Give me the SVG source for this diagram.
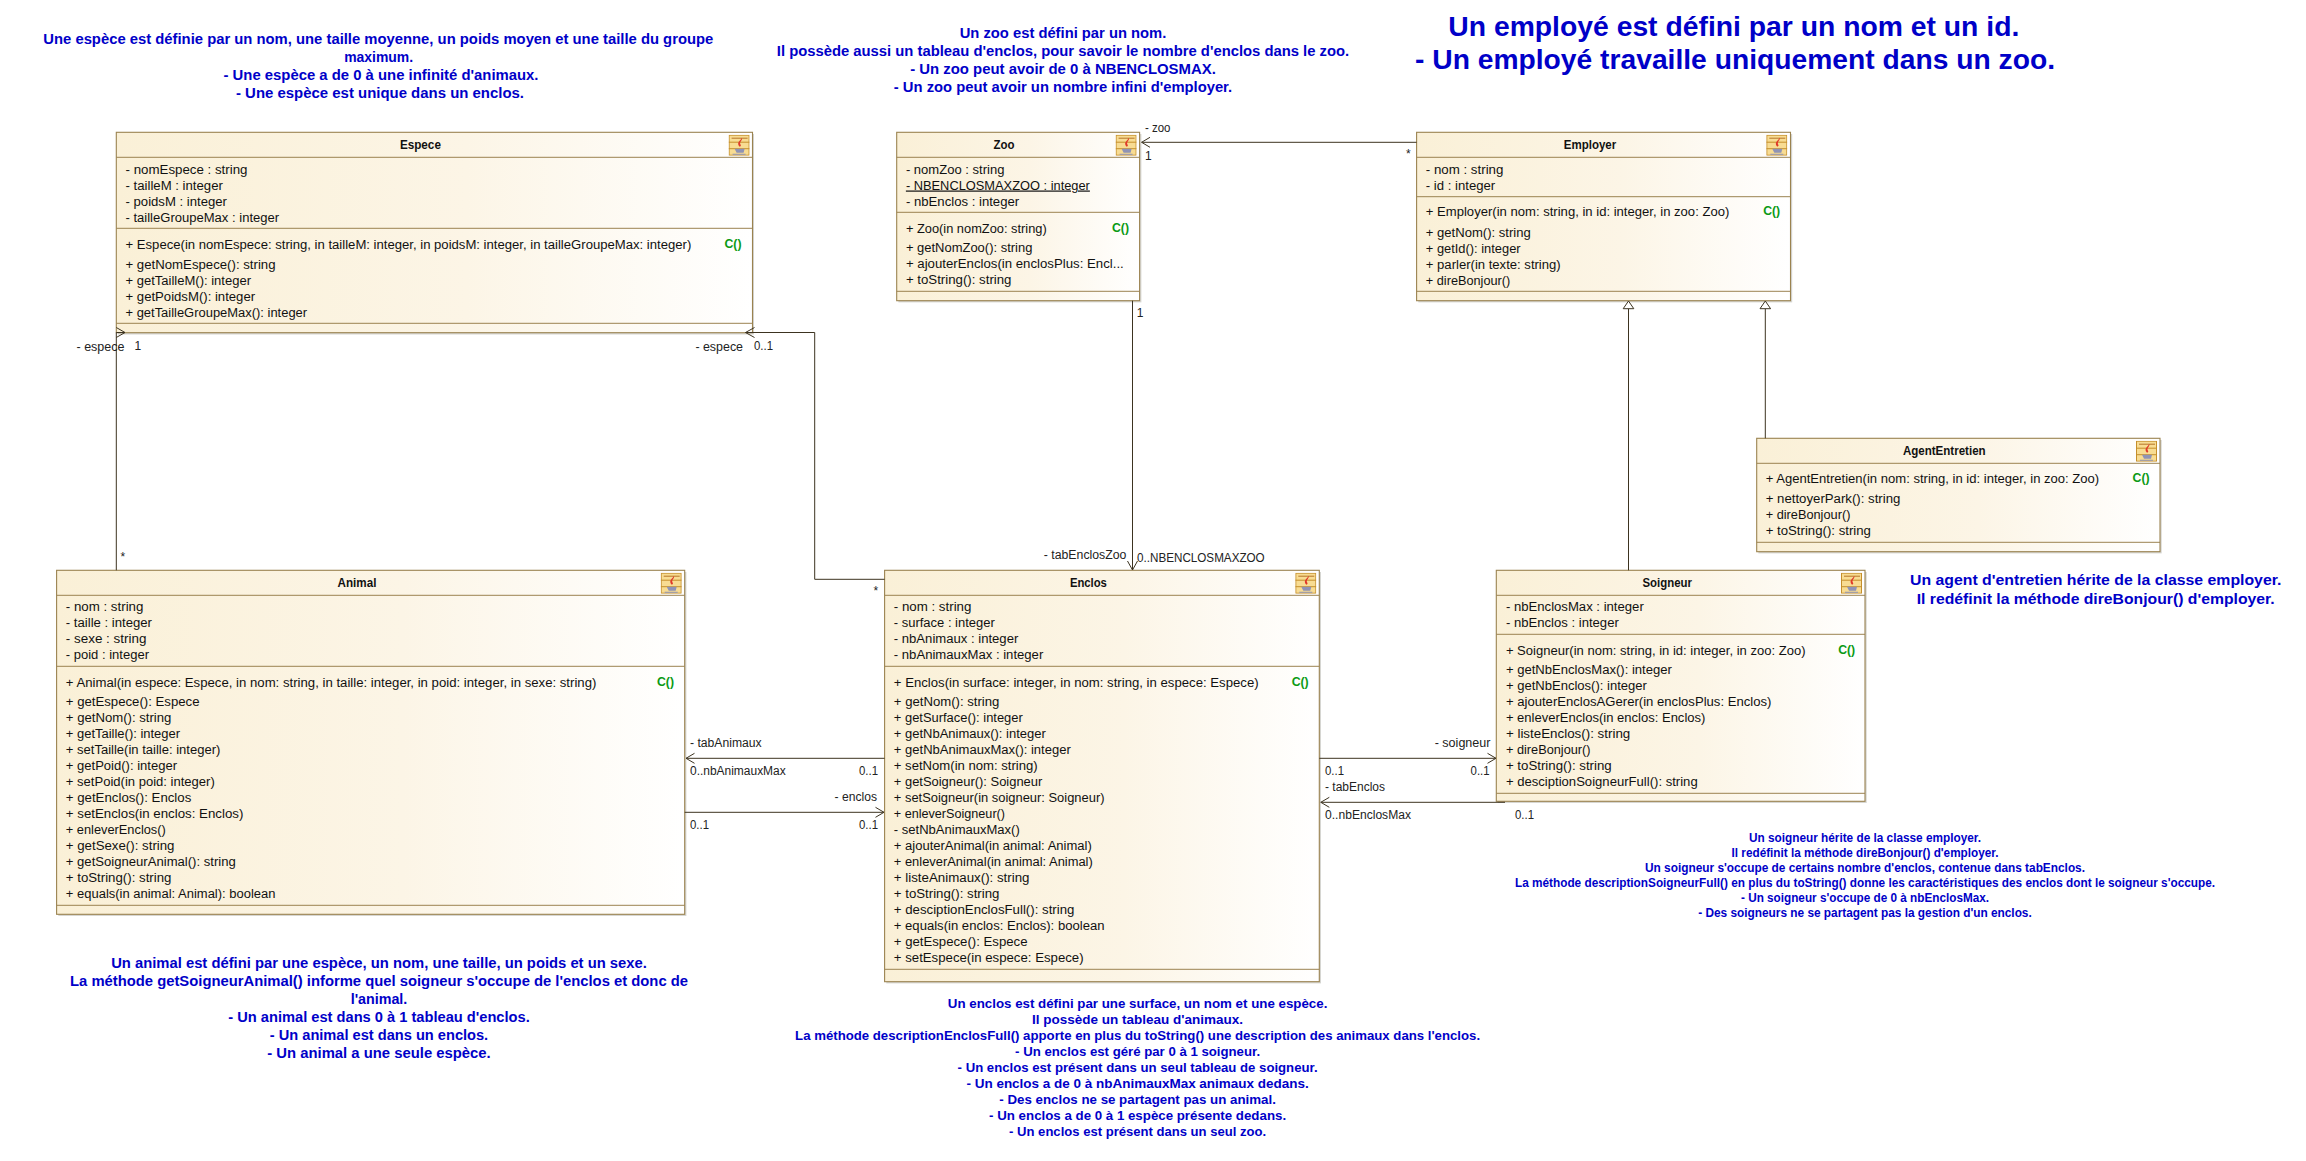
<svg xmlns="http://www.w3.org/2000/svg" width="2306" height="1161" viewBox="0 0 2306 1161">
<style>
text{font-family:"Liberation Sans",Arial,sans-serif}
.t{font-size:12px;fill:#111}
.u{text-decoration:underline}
.h{font-size:12px;fill:#111;font-weight:bold;text-anchor:middle}
.c{font-size:13px;fill:#0a9a14;font-weight:bold}
.l{font-size:12px;fill:#222}
.n{fill:#0000c8;font-weight:bold;text-anchor:middle}
.n1{font-size:14px}.n2{font-size:13px}.n3{font-size:12px}.n4{font-size:28px}.n5{font-size:15px}
.box{fill:url(#g);stroke:#9b8350;stroke-width:1.1}
.sh{fill:#d6d6d2}
.div{stroke:#9b8350;stroke-width:1;fill:none}
.con{fill:none;stroke:#3c3320;stroke-width:1}
.tri{fill:#fff;stroke:#3c3320;stroke-width:1}
</style>
<defs>
<linearGradient id="g" x1="0" y1="0" x2="1" y2="0"><stop offset="0" stop-color="#faf0d7"/><stop offset="0.55" stop-color="#fcf5e6"/><stop offset="1" stop-color="#ffffff"/></linearGradient>
<symbol id="icon" viewBox="0 0 21 21" width="21" height="21">
<rect x="0.5" y="0.5" width="20" height="20" fill="#f8dc92" stroke="#c58f2c"/>
<path d="M0 7.5H21M0 14H21" stroke="#c58f2c" fill="none"/>
<path d="M3 3.5H19" stroke="#b5762a" fill="none"/>
<path d="M13 3C15 5 10 7 12 10C13 11 11 12 11 12C9 10 9 8 11 6C12 5 13 4 13 3Z" fill="#e0392a"/>
<path d="M6 14H16L15 18H8ZM4 19H17V20H4Z" fill="#8f93b5"/>
</symbol>
</defs>
<rect width="2306" height="1161" fill="#fff"/>

<g id="Espece">
<rect class="sh" x="118" y="134" width="636" height="200.500"/>
<rect class="box" x="116.300" y="132.300" width="636.200" height="200.400"/>
<path class="div" d="M116.300 157.300H752.500M116.300 228.300H752.500M116.300 323.300H752.500"/>
<use href="#icon" x="728.600" y="134.700"/>
<text class="h" x="420.400" y="149" textLength="41" lengthAdjust="spacingAndGlyphs">Espece</text>
<text class="t" x="125.500" y="173.500" textLength="122" lengthAdjust="spacingAndGlyphs">- nomEspece : string</text>
<text class="t" x="125.500" y="189.500" textLength="97.400" lengthAdjust="spacingAndGlyphs">- tailleM : integer</text>
<text class="t" x="125.500" y="205.500" textLength="101.500" lengthAdjust="spacingAndGlyphs">- poidsM : integer</text>
<text class="t" x="125.500" y="221.500" textLength="153.600" lengthAdjust="spacingAndGlyphs">- tailleGroupeMax : integer</text>
<text class="t" x="125.500" y="248.500" textLength="565.800" lengthAdjust="spacingAndGlyphs">+ Espece(in nomEspece: string, in tailleM: integer, in poidsM: integer, in tailleGroupeMax: integer)</text>
<text class="c" x="724.500" y="247.500" textLength="17" lengthAdjust="spacingAndGlyphs">C()</text>
<text class="t" x="125.500" y="268.500" textLength="150" lengthAdjust="spacingAndGlyphs">+ getNomEspece(): string</text>
<text class="t" x="125.500" y="284.500" textLength="125.500" lengthAdjust="spacingAndGlyphs">+ getTailleM(): integer</text>
<text class="t" x="125.500" y="300.500" textLength="129.600" lengthAdjust="spacingAndGlyphs">+ getPoidsM(): integer</text>
<text class="t" x="125.500" y="316.500" textLength="181.600" lengthAdjust="spacingAndGlyphs">+ getTailleGroupeMax(): integer</text>
</g>

<g id="Zoo">
<rect class="sh" x="898.400" y="134" width="243" height="168.400"/>
<rect class="box" x="896.700" y="132.300" width="242.900" height="168.400"/>
<path class="div" d="M896.700 157.300H1139.600M896.700 212.300H1139.600M896.700 291.300H1139.600"/>
<use href="#icon" x="1115.600" y="134.700"/>
<text class="h" x="1004" y="149" textLength="21" lengthAdjust="spacingAndGlyphs">Zoo</text>
<text class="t" x="905.900" y="173.500" textLength="98.500" lengthAdjust="spacingAndGlyphs">- nomZoo : string</text>
<text class="t u" x="905.900" y="189.500" textLength="184" lengthAdjust="spacingAndGlyphs">- NBENCLOSMAXZOO : integer</text>
<text class="t" x="905.900" y="205.500" textLength="113.300" lengthAdjust="spacingAndGlyphs">- nbEnclos : integer</text>
<text class="t" x="905.900" y="232.500" textLength="140.800" lengthAdjust="spacingAndGlyphs">+ Zoo(in nomZoo: string)</text>
<text class="c" x="1112" y="231.500" textLength="17" lengthAdjust="spacingAndGlyphs">C()</text>
<text class="t" x="905.900" y="252" textLength="126.500" lengthAdjust="spacingAndGlyphs">+ getNomZoo(): string</text>
<text class="t" x="905.900" y="268" textLength="217.900" lengthAdjust="spacingAndGlyphs">+ ajouterEnclos(in enclosPlus: Encl...</text>
<text class="t" x="905.900" y="284" textLength="105.600" lengthAdjust="spacingAndGlyphs">+ toString(): string</text>
</g>

<g id="Employer">
<rect class="sh" x="1418.300" y="134" width="373.900" height="168.400"/>
<rect class="box" x="1416.600" y="132.300" width="373.900" height="168.400"/>
<path class="div" d="M1416.600 157.300H1790.500M1416.600 196.700H1790.500M1416.600 291.300H1790.500"/>
<use href="#icon" x="1766.300" y="134.700"/>
<text class="h" x="1590" y="149" textLength="52.400" lengthAdjust="spacingAndGlyphs">Employer</text>
<text class="t" x="1425.800" y="173.500" textLength="77.600" lengthAdjust="spacingAndGlyphs">- nom : string</text>
<text class="t" x="1425.800" y="189.500" textLength="69.400" lengthAdjust="spacingAndGlyphs">- id : integer</text>
<text class="t" x="1425.800" y="216" textLength="303.500" lengthAdjust="spacingAndGlyphs">+ Employer(in nom: string, in id: integer, in zoo: Zoo)</text>
<text class="c" x="1763.200" y="215" textLength="17" lengthAdjust="spacingAndGlyphs">C()</text>
<text class="t" x="1425.800" y="236.500" textLength="105" lengthAdjust="spacingAndGlyphs">+ getNom(): string</text>
<text class="t" x="1425.800" y="252.500" textLength="94.800" lengthAdjust="spacingAndGlyphs">+ getId(): integer</text>
<text class="t" x="1425.800" y="268.500" textLength="134.900" lengthAdjust="spacingAndGlyphs">+ parler(in texte: string)</text>
<text class="t" x="1425.800" y="284.500" textLength="84.500" lengthAdjust="spacingAndGlyphs">+ direBonjour()</text>
</g>

<g id="AgentEntretien">
<rect class="sh" x="1758.400" y="440" width="403.300" height="113.400"/>
<rect class="box" x="1756.700" y="438.300" width="403.300" height="113.400"/>
<path class="div" d="M1756.700 463.300H2160M1756.700 542.300H2160"/>
<use href="#icon" x="2136" y="440.700"/>
<text class="h" x="1944.300" y="455" textLength="82.700" lengthAdjust="spacingAndGlyphs">AgentEntretien</text>
<text class="t" x="1765.700" y="483.300" textLength="333.500" lengthAdjust="spacingAndGlyphs">+ AgentEntretien(in nom: string, in id: integer, in zoo: Zoo)</text>
<text class="c" x="2132.600" y="482.300" textLength="17" lengthAdjust="spacingAndGlyphs">C()</text>
<text class="t" x="1765.700" y="503.300" textLength="134.700" lengthAdjust="spacingAndGlyphs">+ nettoyerPark(): string</text>
<text class="t" x="1765.700" y="519.300" textLength="84.700" lengthAdjust="spacingAndGlyphs">+ direBonjour()</text>
<text class="t" x="1765.700" y="535.300" textLength="105.200" lengthAdjust="spacingAndGlyphs">+ toString(): string</text>
</g>

<g id="Animal">
<rect class="sh" x="58.300" y="572" width="628.100" height="344"/>
<rect class="box" x="56.600" y="570.300" width="628.100" height="344"/>
<path class="div" d="M56.600 595.300H684.700M56.600 666.300H684.700M56.600 905.300H684.700"/>
<use href="#icon" x="660.700" y="572.700"/>
<text class="h" x="357" y="587" textLength="38.800" lengthAdjust="spacingAndGlyphs">Animal</text>
<text class="t" x="65.800" y="611.200" textLength="77.600" lengthAdjust="spacingAndGlyphs">- nom : string</text>
<text class="t" x="65.800" y="627.200" textLength="86.200" lengthAdjust="spacingAndGlyphs">- taille : integer</text>
<text class="t" x="65.800" y="643.200" textLength="80.600" lengthAdjust="spacingAndGlyphs">- sexe : string</text>
<text class="t" x="65.800" y="659.200" textLength="83.200" lengthAdjust="spacingAndGlyphs">- poid : integer</text>
<text class="t" x="65.800" y="686.500" textLength="530.600" lengthAdjust="spacingAndGlyphs">+ Animal(in espece: Espece, in nom: string, in taille: integer, in poid: integer, in sexe: string)</text>
<text class="c" x="657" y="685.500" textLength="17" lengthAdjust="spacingAndGlyphs">C()</text>
<text class="t" x="65.800" y="706.200" textLength="133.700" lengthAdjust="spacingAndGlyphs">+ getEspece(): Espece</text>
<text class="t" x="65.800" y="722.200" textLength="105.600" lengthAdjust="spacingAndGlyphs">+ getNom(): string</text>
<text class="t" x="65.800" y="738.200" textLength="114.300" lengthAdjust="spacingAndGlyphs">+ getTaille(): integer</text>
<text class="t" x="65.800" y="754.200" textLength="154.600" lengthAdjust="spacingAndGlyphs">+ setTaille(in taille: integer)</text>
<text class="t" x="65.800" y="770.200" textLength="111.200" lengthAdjust="spacingAndGlyphs">+ getPoid(): integer</text>
<text class="t" x="65.800" y="786.200" textLength="149" lengthAdjust="spacingAndGlyphs">+ setPoid(in poid: integer)</text>
<text class="t" x="65.800" y="802.200" textLength="125.500" lengthAdjust="spacingAndGlyphs">+ getEnclos(): Enclos</text>
<text class="t" x="65.800" y="818.200" textLength="177.600" lengthAdjust="spacingAndGlyphs">+ setEnclos(in enclos: Enclos)</text>
<text class="t" x="65.800" y="834.200" textLength="100" lengthAdjust="spacingAndGlyphs">+ enleverEnclos()</text>
<text class="t" x="65.800" y="850.200" textLength="108.700" lengthAdjust="spacingAndGlyphs">+ getSexe(): string</text>
<text class="t" x="65.800" y="866.200" textLength="170" lengthAdjust="spacingAndGlyphs">+ getSoigneurAnimal(): string</text>
<text class="t" x="65.800" y="882.200" textLength="105.600" lengthAdjust="spacingAndGlyphs">+ toString(): string</text>
<text class="t" x="65.800" y="898.200" textLength="209.700" lengthAdjust="spacingAndGlyphs">+ equals(in animal: Animal): boolean</text>
</g>

<g id="Enclos">
<rect class="sh" x="886.300" y="572" width="434.700" height="411.400"/>
<rect class="box" x="884.600" y="570.300" width="434.700" height="411.400"/>
<path class="div" d="M884.600 595.300H1319.300M884.600 666.300H1319.300M884.600 969.300H1319.300"/>
<use href="#icon" x="1295.300" y="572.700"/>
<text class="h" x="1088.400" y="587" textLength="37" lengthAdjust="spacingAndGlyphs">Enclos</text>
<text class="t" x="893.800" y="611.200" textLength="77.600" lengthAdjust="spacingAndGlyphs">- nom : string</text>
<text class="t" x="893.800" y="627.200" textLength="101" lengthAdjust="spacingAndGlyphs">- surface : integer</text>
<text class="t" x="893.800" y="643.200" textLength="124.500" lengthAdjust="spacingAndGlyphs">- nbAnimaux : integer</text>
<text class="t" x="893.800" y="659.200" textLength="149.500" lengthAdjust="spacingAndGlyphs">- nbAnimauxMax : integer</text>
<text class="t" x="893.800" y="686.500" textLength="364.800" lengthAdjust="spacingAndGlyphs">+ Enclos(in surface: integer, in nom: string, in espece: Espece)</text>
<text class="c" x="1291.700" y="685.500" textLength="17" lengthAdjust="spacingAndGlyphs">C()</text>
<text class="t" x="893.800" y="706.200" textLength="105.600" lengthAdjust="spacingAndGlyphs">+ getNom(): string</text>
<text class="t" x="893.800" y="722.200" textLength="129" lengthAdjust="spacingAndGlyphs">+ getSurface(): integer</text>
<text class="t" x="893.800" y="738.200" textLength="152" lengthAdjust="spacingAndGlyphs">+ getNbAnimaux(): integer</text>
<text class="t" x="893.800" y="754.200" textLength="177" lengthAdjust="spacingAndGlyphs">+ getNbAnimauxMax(): integer</text>
<text class="t" x="893.800" y="770.200" textLength="143.900" lengthAdjust="spacingAndGlyphs">+ setNom(in nom: string)</text>
<text class="t" x="893.800" y="786.200" textLength="148.500" lengthAdjust="spacingAndGlyphs">+ getSoigneur(): Soigneur</text>
<text class="t" x="893.800" y="802.200" textLength="210.700" lengthAdjust="spacingAndGlyphs">+ setSoigneur(in soigneur: Soigneur)</text>
<text class="t" x="893.800" y="818.200" textLength="111.200" lengthAdjust="spacingAndGlyphs">+ enleverSoigneur()</text>
<text class="t" x="893.800" y="834.200" textLength="126" lengthAdjust="spacingAndGlyphs">- setNbAnimauxMax()</text>
<text class="t" x="893.800" y="850.200" textLength="198" lengthAdjust="spacingAndGlyphs">+ ajouterAnimal(in animal: Animal)</text>
<text class="t" x="893.800" y="866.200" textLength="199" lengthAdjust="spacingAndGlyphs">+ enleverAnimal(in animal: Animal)</text>
<text class="t" x="893.800" y="882.200" textLength="135.700" lengthAdjust="spacingAndGlyphs">+ listeAnimaux(): string</text>
<text class="t" x="893.800" y="898.200" textLength="105.600" lengthAdjust="spacingAndGlyphs">+ toString(): string</text>
<text class="t" x="893.800" y="914.200" textLength="180.600" lengthAdjust="spacingAndGlyphs">+ desciptionEnclosFull(): string</text>
<text class="t" x="893.800" y="930.200" textLength="210.700" lengthAdjust="spacingAndGlyphs">+ equals(in enclos: Enclos): boolean</text>
<text class="t" x="893.800" y="946.200" textLength="133.700" lengthAdjust="spacingAndGlyphs">+ getEspece(): Espece</text>
<text class="t" x="893.800" y="962.200" textLength="189.800" lengthAdjust="spacingAndGlyphs">+ setEspece(in espece: Espece)</text>
</g>

<g id="Soigneur">
<rect class="sh" x="1498" y="572" width="368.700" height="231"/>
<rect class="box" x="1496.300" y="570.300" width="368.700" height="231"/>
<path class="div" d="M1496.300 595.300H1865M1496.300 634.300H1865M1496.300 793.300H1865"/>
<use href="#icon" x="1841" y="572.700"/>
<text class="h" x="1667.200" y="587" textLength="49.400" lengthAdjust="spacingAndGlyphs">Soigneur</text>
<text class="t" x="1505.900" y="611.200" textLength="137.900" lengthAdjust="spacingAndGlyphs">- nbEnclosMax : integer</text>
<text class="t" x="1505.900" y="627.200" textLength="112.900" lengthAdjust="spacingAndGlyphs">- nbEnclos : integer</text>
<text class="t" x="1505.900" y="654.500" textLength="299.600" lengthAdjust="spacingAndGlyphs">+ Soigneur(in nom: string, in id: integer, in zoo: Zoo)</text>
<text class="c" x="1838.200" y="653.500" textLength="17" lengthAdjust="spacingAndGlyphs">C()</text>
<text class="t" x="1505.900" y="674.200" textLength="166" lengthAdjust="spacingAndGlyphs">+ getNbEnclosMax(): integer</text>
<text class="t" x="1505.900" y="690.200" textLength="141" lengthAdjust="spacingAndGlyphs">+ getNbEnclos(): integer</text>
<text class="t" x="1505.900" y="706.200" textLength="265.500" lengthAdjust="spacingAndGlyphs">+ ajouterEnclosAGerer(in enclosPlus: Enclos)</text>
<text class="t" x="1505.900" y="722.200" textLength="199.500" lengthAdjust="spacingAndGlyphs">+ enleverEnclos(in enclos: Enclos)</text>
<text class="t" x="1505.900" y="738.200" textLength="124.400" lengthAdjust="spacingAndGlyphs">+ listeEnclos(): string</text>
<text class="t" x="1505.900" y="754.200" textLength="84.700" lengthAdjust="spacingAndGlyphs">+ direBonjour()</text>
<text class="t" x="1505.900" y="770.200" textLength="105.800" lengthAdjust="spacingAndGlyphs">+ toString(): string</text>
<text class="t" x="1505.900" y="786.200" textLength="191.800" lengthAdjust="spacingAndGlyphs">+ desciptionSoigneurFull(): string</text>
</g>

<g id="connectors">
<path class="con" d="M116.300 570.300V332.500"/>
<path class="con" d="M116.300 327.500L125 332.500L116.300 337.500M116.300 332.500H125"/>
<path class="con" d="M884.600 579.300H814.700V332.500H745.500M754.500 327.500L745.500 332.500L754.500 337.500"/>
<path class="con" d="M1416.600 142.300H1141.600M1150 137.300L1141.600 142.300L1150 147.300"/>
<path class="con" d="M1132.500 300.700V570M1127.500 561L1132.500 570L1137.500 561"/>
<path class="con" d="M884.600 758.300H686M694.500 753.300L686 758.300L694.500 763.300"/>
<path class="con" d="M684.700 812.300H884M875.500 807.300L884 812.300L875.500 817.300"/>
<path class="con" d="M1319.300 758.300H1496M1487.500 753.300L1496 758.300L1487.500 763.300"/>
<path class="con" d="M1505 802.300H1320.800M1329.300 797.300L1320.800 802.300L1329.300 807.300"/>
<path class="con" d="M1628.500 570.300V308.700"/>
<path class="tri" d="M1628.500 301L1633.800 308.700H1623.200Z"/>
<path class="con" d="M1765.300 438.300V308.700"/>
<path class="tri" d="M1765.300 301L1770.600 308.700H1760Z"/>
</g>

<g id="connector-labels">
<text class="l" x="76.500" y="351" textLength="48" lengthAdjust="spacingAndGlyphs">- espece</text>
<text class="l" x="134.400" y="349.500">1</text>
<text class="l" x="120.500" y="560.500">*</text>
<text class="l" x="695.400" y="351" textLength="47.600" lengthAdjust="spacingAndGlyphs">- espece</text>
<text class="l" x="754" y="349.500" textLength="19" lengthAdjust="spacingAndGlyphs">0..1</text>
<text class="l" x="873.400" y="594.500">*</text>
<text class="l" x="1145" y="131.500" textLength="25.500" lengthAdjust="spacingAndGlyphs">- zoo</text>
<text class="l" x="1145" y="159.500">1</text>
<text class="l" x="1406" y="158">*</text>
<text class="l" x="1136.700" y="317">1</text>
<text class="l" x="1043.800" y="559" textLength="82.600" lengthAdjust="spacingAndGlyphs">- tabEnclosZoo</text>
<text class="l" x="1137" y="561.500" textLength="127.700" lengthAdjust="spacingAndGlyphs">0..NBENCLOSMAXZOO</text>
<text class="l" x="690" y="747" textLength="71.700" lengthAdjust="spacingAndGlyphs">- tabAnimaux</text>
<text class="l" x="690" y="775" textLength="95.700" lengthAdjust="spacingAndGlyphs">0..nbAnimauxMax</text>
<text class="l" x="859" y="775" textLength="19" lengthAdjust="spacingAndGlyphs">0..1</text>
<text class="l" x="834.600" y="801" textLength="42.400" lengthAdjust="spacingAndGlyphs">- enclos</text>
<text class="l" x="690" y="829" textLength="19" lengthAdjust="spacingAndGlyphs">0..1</text>
<text class="l" x="859" y="829" textLength="19" lengthAdjust="spacingAndGlyphs">0..1</text>
<text class="l" x="1434.700" y="747" textLength="55.800" lengthAdjust="spacingAndGlyphs">- soigneur</text>
<text class="l" x="1325" y="775" textLength="19" lengthAdjust="spacingAndGlyphs">0..1</text>
<text class="l" x="1470.600" y="775" textLength="19" lengthAdjust="spacingAndGlyphs">0..1</text>
<text class="l" x="1325" y="791" textLength="60" lengthAdjust="spacingAndGlyphs">- tabEnclos</text>
<text class="l" x="1325" y="819" textLength="86" lengthAdjust="spacingAndGlyphs">0..nbEnclosMax</text>
<text class="l" x="1515" y="819" textLength="19" lengthAdjust="spacingAndGlyphs">0..1</text>
</g>

<g id="note-espece">
<text class="n n1" x="378.300" y="44" textLength="670" lengthAdjust="spacingAndGlyphs">Une espèce est définie par un nom, une taille moyenne, un poids moyen et une taille du groupe</text>
<text class="n n1" x="378.600" y="62" textLength="68.900" lengthAdjust="spacingAndGlyphs">maximum.</text>
<text class="n n1" x="381" y="80" textLength="315" lengthAdjust="spacingAndGlyphs">- Une espèce a de 0 à une infinité d'animaux.</text>
<text class="n n1" x="380" y="98" textLength="288" lengthAdjust="spacingAndGlyphs">- Une espèce est unique dans un enclos.</text>
</g>
<g id="note-zoo">
<text class="n n1" x="1063" y="38" textLength="206.600" lengthAdjust="spacingAndGlyphs">Un zoo est défini par un nom.</text>
<text class="n n1" x="1063" y="56" textLength="572.400" lengthAdjust="spacingAndGlyphs">Il possède aussi un tableau d'enclos, pour savoir le nombre d'enclos dans le zoo.</text>
<text class="n n1" x="1063" y="74" textLength="305.600" lengthAdjust="spacingAndGlyphs">- Un zoo peut avoir de 0 à NBENCLOSMAX.</text>
<text class="n n1" x="1063" y="92" textLength="338.300" lengthAdjust="spacingAndGlyphs">- Un zoo peut avoir un nombre infini d'employer.</text>
</g>
<g id="note-employer">
<text class="n n4" x="1733.800" y="36" textLength="571" lengthAdjust="spacingAndGlyphs">Un employé est défini par un nom et un id.</text>
<text class="n n4" x="1735" y="69" textLength="640" lengthAdjust="spacingAndGlyphs">- Un employé travaille uniquement dans un zoo.</text>
</g>
<g id="note-agent">
<text class="n n5" x="2095.700" y="585" textLength="371.400" lengthAdjust="spacingAndGlyphs">Un agent d'entretien hérite de la classe employer.</text>
<text class="n n5" x="2095.700" y="604" textLength="358" lengthAdjust="spacingAndGlyphs">Il redéfinit la méthode direBonjour() d'employer.</text>
</g>
<g id="note-animal">
<text class="n n1" x="379" y="968" textLength="535.700" lengthAdjust="spacingAndGlyphs">Un animal est défini par une espèce, un nom, une taille, un poids et un sexe.</text>
<text class="n n1" x="379" y="986" textLength="618" lengthAdjust="spacingAndGlyphs">La méthode getSoigneurAnimal() informe quel soigneur s'occupe de l'enclos et donc de</text>
<text class="n n1" x="379" y="1004" textLength="56.600" lengthAdjust="spacingAndGlyphs">l'animal.</text>
<text class="n n1" x="379" y="1022" textLength="301.500" lengthAdjust="spacingAndGlyphs">- Un animal est dans 0 à 1 tableau d'enclos.</text>
<text class="n n1" x="379" y="1040" textLength="218.400" lengthAdjust="spacingAndGlyphs">- Un animal est dans un enclos.</text>
<text class="n n1" x="379" y="1058" textLength="223.500" lengthAdjust="spacingAndGlyphs">- Un animal a une seule espèce.</text>
</g>
<g id="note-enclos">
<text class="n n2" x="1137.600" y="1008" textLength="379.600" lengthAdjust="spacingAndGlyphs">Un enclos est défini par une surface, un nom et une espèce.</text>
<text class="n n2" x="1137.600" y="1024" textLength="211" lengthAdjust="spacingAndGlyphs">Il possède un tableau d'animaux.</text>
<text class="n n2" x="1137.600" y="1040" textLength="685" lengthAdjust="spacingAndGlyphs">La méthode descriptionEnclosFull() apporte en plus du toString() une description des animaux dans l'enclos.</text>
<text class="n n2" x="1137.600" y="1056" textLength="245" lengthAdjust="spacingAndGlyphs">- Un enclos est géré par 0 à 1 soigneur.</text>
<text class="n n2" x="1137.600" y="1072" textLength="360" lengthAdjust="spacingAndGlyphs">- Un enclos est présent dans un seul tableau de soigneur.</text>
<text class="n n2" x="1137.600" y="1088" textLength="342.300" lengthAdjust="spacingAndGlyphs">- Un enclos a de 0 à nbAnimauxMax animaux dedans.</text>
<text class="n n2" x="1137.600" y="1104" textLength="276.500" lengthAdjust="spacingAndGlyphs">- Des enclos ne se partagent pas un animal.</text>
<text class="n n2" x="1137.600" y="1120" textLength="297" lengthAdjust="spacingAndGlyphs">- Un enclos a de 0 à 1 espèce présente dedans.</text>
<text class="n n2" x="1137.600" y="1136" textLength="257" lengthAdjust="spacingAndGlyphs">- Un enclos est présent dans un seul zoo.</text>
</g>
<g id="note-soigneur">
<text class="n n3" x="1865" y="842" textLength="232" lengthAdjust="spacingAndGlyphs">Un soigneur hérite de la classe employer.</text>
<text class="n n3" x="1865" y="857" textLength="266.800" lengthAdjust="spacingAndGlyphs">Il redéfinit la méthode direBonjour() d'employer.</text>
<text class="n n3" x="1865" y="872" textLength="440" lengthAdjust="spacingAndGlyphs">Un soigneur s'occupe de certains nombre d'enclos, contenue dans tabEnclos.</text>
<text class="n n3" x="1865" y="887" textLength="700" lengthAdjust="spacingAndGlyphs">La méthode descriptionSoigneurFull() en plus du toString() donne les caractéristiques des enclos dont le soigneur s'occupe.</text>
<text class="n n3" x="1865" y="902" textLength="248" lengthAdjust="spacingAndGlyphs">- Un soigneur s'occupe de 0 à nbEnclosMax.</text>
<text class="n n3" x="1865" y="917" textLength="333.500" lengthAdjust="spacingAndGlyphs">- Des soigneurs ne se partagent pas la gestion d'un enclos.</text>
</g>
</svg>
